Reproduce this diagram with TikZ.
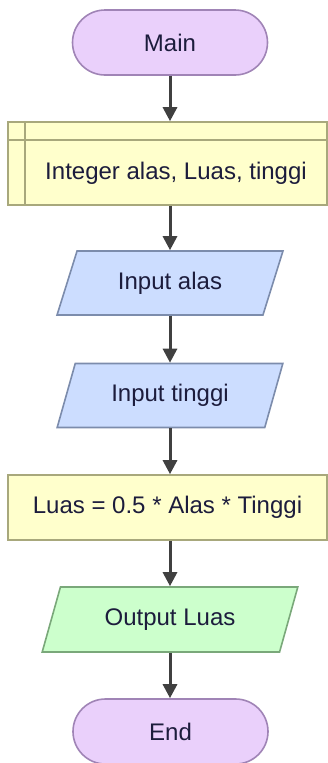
\documentclass[tikz,border=0pt]{standalone}
\usepackage{fontspec}
\setmainfont{Liberation Sans}
\usetikzlibrary{shapes.misc,shapes.geometric,arrows.meta}

\definecolor{termfill}{HTML}{EAD0FB}
\definecolor{termline}{HTML}{A084B6}
\definecolor{declfill}{HTML}{FFFFCC}
\definecolor{declline}{HTML}{A8A87C}
\definecolor{infill}{HTML}{CCDDFF}
\definecolor{inline}{HTML}{7C8CAC}
\definecolor{outfill}{HTML}{CCFFCC}
\definecolor{outline}{HTML}{7AA87A}
\definecolor{arrowcol}{HTML}{404040}
\definecolor{txtcol}{HTML}{1C1C3C}

\begin{document}
\begin{tikzpicture}[x=1pt,y=-1pt,
  every node/.style={font=\fontsize{24}{28}\selectfont, text=txtcol, inner sep=0pt},
  terminal/.style={rounded rectangle, draw=termline, fill=termfill, line width=1.6pt,
    minimum width=195pt, minimum height=65pt},
  declbox/.style={rectangle, draw=declline, fill=declfill, line width=1.6pt},
  procbox/.style={rectangle, draw=declline, fill=declfill, line width=1.6pt,
    minimum width=319pt, minimum height=65pt},
  iobox/.style={trapezium, trapezium stretches=true,
    trapezium left angle=63.4, trapezium right angle=116.6, line width=1.6pt},
  inbox/.style={iobox, draw=inline, fill=infill},
  outbox/.style={iobox, draw=outline, fill=outfill},
  flow/.style={draw=arrowcol, line width=3pt,
    -{Triangle[length=14pt,width=14pt]}}
]
\useasboundingbox (0,0) rectangle (328,763);

% start
\node[terminal] (main) at (170,42.5) {Main};

% variable declaration block
\node[declbox, minimum width=319pt, minimum height=83pt] (decl) at (167.5,163.5) {};
\coordinate (declhl) at (8,140);
\coordinate (declhr) at (327,140);
\coordinate (declvt) at (25,122);
\coordinate (declvb) at (25,205);
\draw[declline, line width=1.6pt] (declhl) -- (declhr);
\draw[declline, line width=1.6pt] (declvt) -- (declvb);
\node (decltext) at (176,173) {Integer alas, Luas, tinggi};

% inputs
\node[inbox, minimum width=226pt, minimum height=64pt] (in1) at (170,283) {Input alas};
\node[inbox, minimum width=226pt, minimum height=64pt] (in2) at (170,395.5) {Input tinggi};

% computation
\node[procbox] (calc) at (167.5,507.5) {Luas = 0.5 * Alas * Tinggi};

% output
\node[outbox, minimum width=256pt, minimum height=65pt] (out) at (170,619.5) {Output Luas};

% end
\node[terminal] (end) at (170.5,731.5) {End};

% connectors
\draw[flow] (main.south) -- (decl.north -| main.south);
\draw[flow] (decl.south -| main.south) -- (in1.north -| main.south);
\draw[flow] (in1.south -| main.south) -- (in2.north -| main.south);
\draw[flow] (in2.south -| main.south) -- (calc.north -| main.south);
\draw[flow] (calc.south -| main.south) -- (out.north -| main.south);
\draw[flow] (out.south -| main.south) -- (end.north -| main.south);
\end{tikzpicture}
\end{document}
